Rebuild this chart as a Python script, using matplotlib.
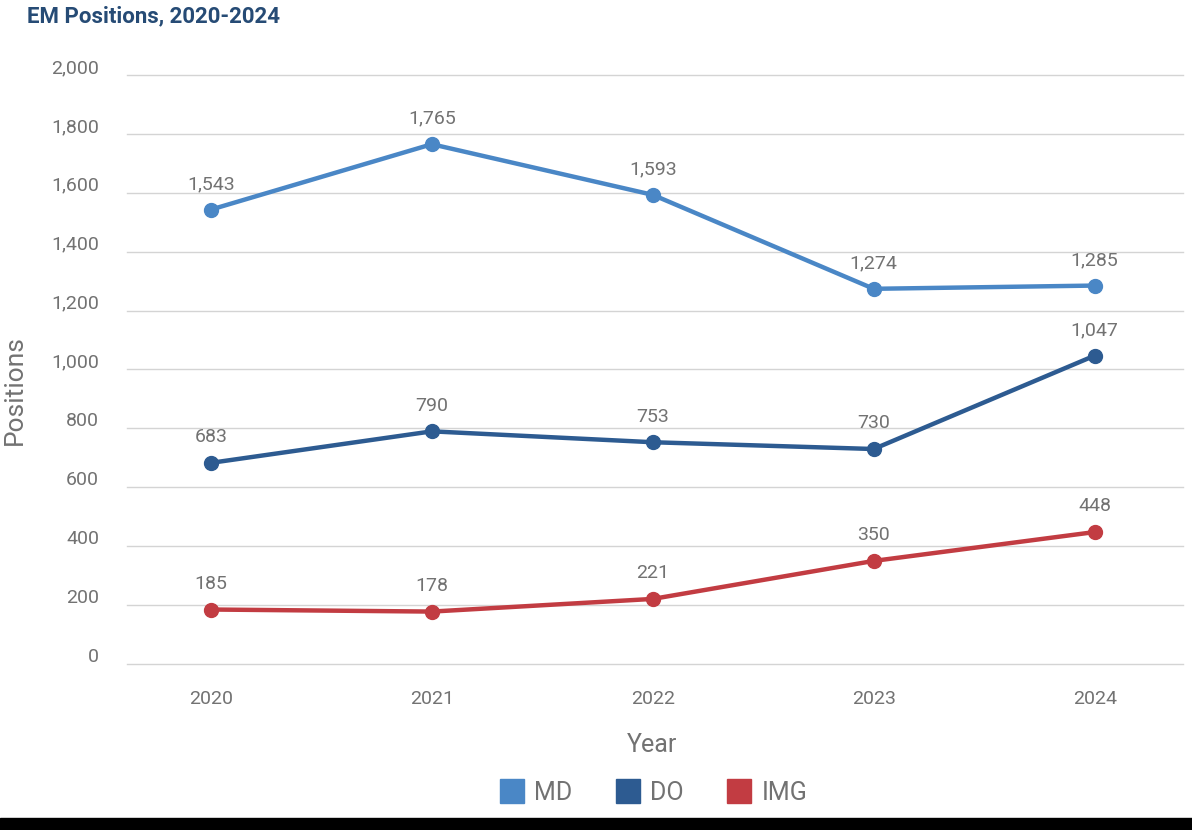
import matplotlib.pyplot as plt
import matplotlib.transforms as mtransforms
from matplotlib.patches import Rectangle
from matplotlib.lines import Line2D

years = [2020, 2021, 2022, 2023, 2024]
md = [1543, 1765, 1593, 1274, 1285]
do = [683, 790, 753, 730, 1047]
img = [185, 178, 221, 350, 448]
yticks = [0, 200, 400, 600, 800, 1000, 1200, 1400, 1600, 1800, 2000]

series = [("MD", md, "#4a87c6"), ("DO", do, "#2d5b91"), ("IMG", img, "#c23c42")]
text_gray = "#727272"

plt.rcParams['font.family'] = ['Roboto', 'DejaVu Sans']

fig = plt.figure(figsize=(11.92, 8.30), dpi=100)
ax = fig.add_axes([127 / 1192, 1 - 664 / 830, (1183 - 127) / 1192, (664 - 75) / 830])

for name, vals, col in series:
    ax.plot(years, vals, color=col, lw=3.2, marker="o", ms=10, solid_capstyle="round", zorder=3)
    for x, v in zip(years, vals):
        ax.annotate(f"{v:,}", (x, v), xytext=(0, 12), textcoords="offset points",
                    ha="center", va="bottom", fontsize=14, color=text_gray)

ax.set_xlim(2019.62, 2024.40)
ax.set_ylim(0, 2000)
ax.set_xticks(years)
ax.set_yticks(yticks)
ax.set_yticklabels([f"{t:,}" for t in yticks])
ax.grid(axis="y", color="#d4d4d4", lw=1)
for gl in ax.get_ygridlines():
    gl.set_clip_on(False)
ax.set_axisbelow(True)
for s in ax.spines.values():
    s.set_visible(False)
ax.tick_params(axis="both", length=0, labelsize=14, labelcolor=text_gray)
ax.tick_params(axis="y", pad=20)
ax.tick_params(axis="x", pad=19)

# y tick labels sit a bit above their gridlines
offset = mtransforms.ScaledTranslation(0, 0.09, fig.dpi_scale_trans)
for lab in ax.get_yticklabels():
    lab.set_transform(lab.get_transform() + offset)

fig.text(15 / 1192, 1 - 390 / 830, "Positions", rotation=90, ha="center", va="center",
         fontsize=19, color=text_gray)
fig.text(652 / 1192, 1 - 745 / 830, "Year", ha="center", va="center", fontsize=18, color=text_gray)
fig.text(27 / 1192, 1 - 16 / 830, "EM Positions, 2020-2024", ha="left", va="center",
         fontsize=16, fontweight="bold", color="#264b75")

handles = [Line2D([], [], ls="none", marker="s", ms=17, color=c, label=n) for n, _, c in series]
fig.legend(handles=handles, loc="center", bbox_to_anchor=(652 / 1192, 1 - 793 / 830), ncol=3,
           frameon=False, fontsize=18, labelcolor=text_gray, handletextpad=0.3,
           columnspacing=1.6, handlelength=1.2)

fig.add_artist(Rectangle((0, 0), 1, 12 / 830, transform=fig.transFigure, color="black"))

fig.savefig("out.png", dpi=100)
